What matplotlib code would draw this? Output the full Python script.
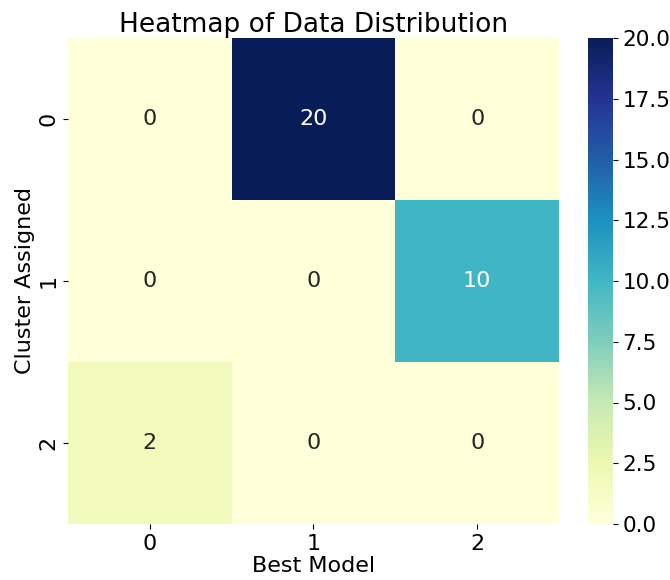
import numpy as np
import matplotlib

matplotlib.use('Agg')
import matplotlib.pyplot as plt
import seaborn as sns

# counts of samples per (cluster, best model)
clusters = ["0", "1", "2"]
models = ["0", "1", "2"]
counts = [
    [0, 20, 0],
    [0, 0, 10],
    [2, 0, 0],
]

plt.rcParams['font.size'] = 16

W, H = 670, 580
fig = plt.figure(figsize=(W / 100, H / 100), dpi=100)
ax = fig.add_axes([68 / W, (H - 524) / H, 491 / W, 486 / H])
cax = fig.add_axes([588 / W, (H - 524) / H, 25 / W, 486 / H])
sns.heatmap(np.array(counts), annot=True, fmt="d", cmap="YlGnBu",
            xticklabels=models, yticklabels=clusters,
            annot_kws={"size": 16}, ax=ax, cbar_ax=cax)
cax.tick_params(labelsize=15.5)
ax.set_title("Heatmap of Data Distribution", fontsize=19, pad=4)
ax.set_xlabel("Best Model", fontsize=16, labelpad=2)
ax.set_ylabel("Cluster Assigned", fontsize=16, labelpad=2)
plt.savefig("out.png")
